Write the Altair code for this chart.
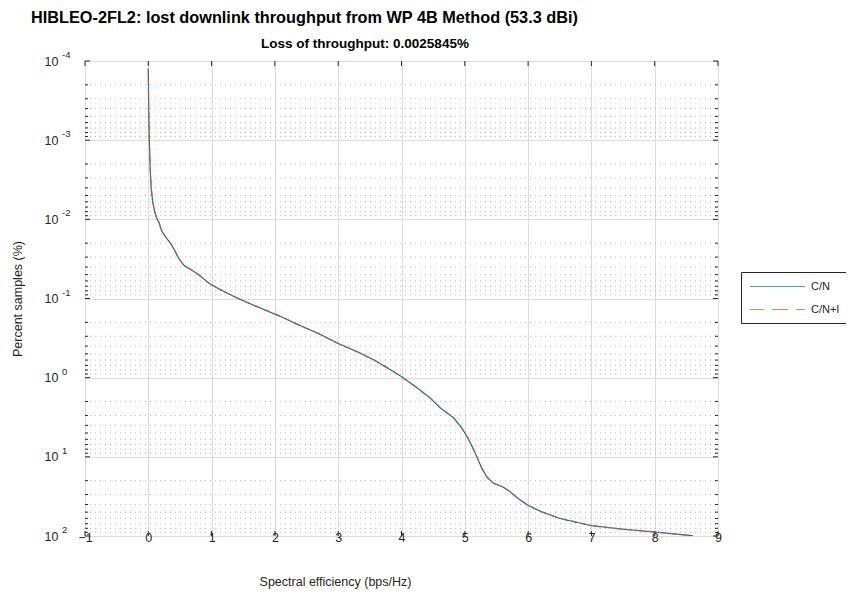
import altair as alt
import pandas as pd

# ---- data ----
se = [0.0, 0.006, 0.016, 0.03, 0.045, 0.07, 0.1, 0.13, 0.17, 0.21, 0.28, 0.35,
      0.42, 0.48, 0.56, 0.65, 0.78, 0.98, 1.2, 1.42, 1.7, 2.1, 2.4, 2.7, 3.0,
      3.3, 3.55, 3.8, 4.0, 4.25, 4.45, 4.61, 4.82, 4.95, 5.05, 5.12, 5.19, 5.27,
      5.35, 5.45, 5.6, 5.7, 5.85, 6.0, 6.2, 6.5, 7.0, 7.5, 8.0, 8.3, 8.6]
pct_cn = [1.25e-4, 4e-4, 1.0e-3, 2.3e-3, 4.0e-3, 6.0e-3, 8.0e-3, 9.5e-3, 1.1e-2,
          1.4e-2, 1.7e-2, 2.0e-2, 2.5e-2, 3.1e-2, 3.8e-2, 4.2e-2, 4.9e-2, 6.6e-2,
          8.2e-2, 0.1, 0.125, 0.17, 0.22, 0.28, 0.37, 0.47, 0.59, 0.77, 0.97, 1.35,
          1.8, 2.4, 3.2, 4.3, 5.8, 7.5, 10.0, 14.0, 18.0, 21.5, 24.0, 27.0, 34.0,
          41.0, 49.0, 60.0, 74.0, 82.0, 89.0, 94.0, 99.0]
pct_cni = list(pct_cn)
series_names = ["C/N", "C/N+I"]
series_colors = ["#0072BD", "#D95319"]

x_ticks = [-1, 0, 1, 2, 3, 4, 5, 6, 7, 8, 9]
y_major = [1e-4, 1e-3, 1e-2, 1e-1, 1e0, 1e1, 1e2]
y_exp = ["-4", "-3", "-2", "-1", "0", "1", "2"]
y_minor = [m * 10.0 ** e for e in range(-4, 2) for m in range(2, 10)]

title1 = "HIBLEO-2FL2: lost downlink throughput from WP 4B Method (53.3 dBi)"
title2 = "Loss of throughput: 0.0025845%"

W, H = 633, 475
FONT = "Liberation Sans"
AX = "#262626"

xs = alt.Scale(domain=[-1, 9], nice=False, zero=False)
ys = alt.Scale(type="log", domain=[1e-4, 1e2], reverse=True, nice=False)

xaxis = alt.Axis(
    values=x_ticks, title="Spectral efficiency (bps/Hz)", grid=True,
    gridColor="#dcdcdc", gridWidth=1, ticks=False, domain=False,
    labelBaseline="middle", labelPadding=1, labelFontSize=12.5,
    labelColor=AX, labelFont=FONT, labelFlush=False, labelOverlap=False,
    titleFont=FONT, titleFontSize=12.5, titleFontWeight="normal",
    titleColor=AX, titleX=250, titleY=45, titleAnchor="middle",
    titleBaseline="middle")
yaxis = alt.Axis(
    values=y_major, labelExpr="'10'", title="Percent samples (%)",
    grid=True, gridColor="#dcdcdc", gridWidth=1, ticks=False,
    domain=False, labelPadding=27, labelFontSize=12.5, labelColor=AX,
    labelFont=FONT, labelBaseline="middle", labelFlush=False, labelOverlap=False,
    titleFont=FONT, titleFontSize=12.5, titleFontWeight="normal",
    titleColor=AX, titleX=-68, titleY=H / 2, titleAngle=-90,
    titleAlign="center", titleBaseline="middle", titleAnchor="middle")

lines_df = pd.DataFrame({
    "se": se + se,
    "pct": pct_cn + pct_cni,
    "series": [series_names[0]] * len(se) + [series_names[1]] * len(se),
    "order": list(range(len(se))) * 2,
})

maj_df = pd.DataFrame({"v": y_major, "e": y_exp})
min_df = pd.DataFrame({"v": y_minor})
xt_df = pd.DataFrame({"t": x_ticks})


def X(f):
    return alt.X(f, scale=xs, axis=xaxis)


def Y(f):
    return alt.Y(f, scale=ys, axis=yaxis)


# minor dotted grid
minor_grid = alt.Chart(min_df).mark_rule(
    color="#b8b8b8", strokeDash=[1, 4], strokeWidth=1
).encode(y=Y("v:Q"), x=alt.value(0), x2=alt.value(W))

exps = alt.Chart(maj_df).mark_text(
    align="left", baseline="middle", fontSize=9.5, font=FONT, color=AX, dy=-6
).encode(y=Y("v:Q"), x=alt.value(-23), text="e:N")

# inward ticks
TM, Tm = 5, 3
xt_top = alt.Chart(xt_df).mark_rule(color=AX, strokeWidth=1).encode(
    x=X("t:Q"), y=alt.value(0), y2=alt.value(TM))
xt_bot = alt.Chart(xt_df).mark_rule(color=AX, strokeWidth=1).encode(
    x=X("t:Q"), y=alt.value(H - TM), y2=alt.value(H))
yt_l = alt.Chart(maj_df).mark_rule(color=AX, strokeWidth=1).encode(
    y=Y("v:Q"), x=alt.value(0), x2=alt.value(TM))
yt_r = alt.Chart(maj_df).mark_rule(color=AX, strokeWidth=1).encode(
    y=Y("v:Q"), x=alt.value(W - TM), x2=alt.value(W))
ym_l = alt.Chart(min_df).mark_rule(color=AX, strokeWidth=1).encode(
    y=Y("v:Q"), x=alt.value(0), x2=alt.value(Tm))
ym_r = alt.Chart(min_df).mark_rule(color=AX, strokeWidth=1).encode(
    y=Y("v:Q"), x=alt.value(W - Tm), x2=alt.value(W))

lines = alt.Chart(lines_df).mark_line(strokeWidth=1.2, clip=True).encode(
    x=X("se:Q"),
    y=Y("pct:Q"),
    color=alt.Color("series:N", scale=alt.Scale(domain=series_names, range=series_colors),
                    legend=None),
    strokeDash=alt.StrokeDash("series:N",
                              scale=alt.Scale(domain=series_names, range=[[1, 0], [6, 5]]),
                              legend=None),
    order="order:Q",
)

# legend carrier: line-sample symbols (solid / dashed) as custom shapes
sym_solid = "M-1,0H9"
sym_dash = "M-1,0H1.5M3,0H5.9M7.4,0H9"
leg = alt.Legend(title=None, orient="none", legendX=656, legendY=211,
                 symbolSize=121, symbolStrokeWidth=1.2, labelFont=FONT,
                 labelFontSize=11, labelColor=AX, labelOffset=49,
                 padding=8, rowPadding=11, strokeColor=AX,
                 fillColor="white", cornerRadius=0)
legend_layer = alt.Chart(lines_df).transform_filter("false").mark_point(
    filled=False, size=121, strokeWidth=1.2
).encode(
    x=X("se:Q"), y=Y("pct:Q"),
    color=alt.Color("series:N", scale=alt.Scale(domain=series_names, range=series_colors),
                    legend=leg),
    shape=alt.Shape("series:N", scale=alt.Scale(domain=series_names,
                                                range=[sym_solid, sym_dash]),
                    legend=leg),
)

title_df = pd.DataFrame({"t1": [title1], "t2": [title2]})
t1 = alt.Chart(title_df).mark_text(
    align="left", baseline="middle", fontSize=16.3, fontWeight="bold", font=FONT, color="black"
).encode(text="t1:N", x=alt.value(-54), y=alt.value(-43))
t2 = alt.Chart(title_df).mark_text(
    align="center", baseline="middle", fontSize=13.5, fontWeight="bold", font=FONT, color="black"
).encode(text="t2:N", x=alt.value(280), y=alt.value(-17))

chart = alt.layer(
    minor_grid, ym_l, ym_r, yt_l, yt_r, xt_top, xt_bot, exps, lines, legend_layer, t1, t2
).resolve_scale(
    color="independent", strokeDash="independent", shape="independent"
).resolve_legend(
    color="independent", strokeDash="independent", shape="independent"
).properties(
    width=W, height=H,
    autosize=alt.AutoSizeParams(type="none"),
    padding={"left": 77, "top": 53, "right": 128, "bottom": 53},
).configure_view(stroke=AX, strokeWidth=1).configure(background="white")

chart.save("out.html", embed_options={"renderer": "svg", "actions": False})
